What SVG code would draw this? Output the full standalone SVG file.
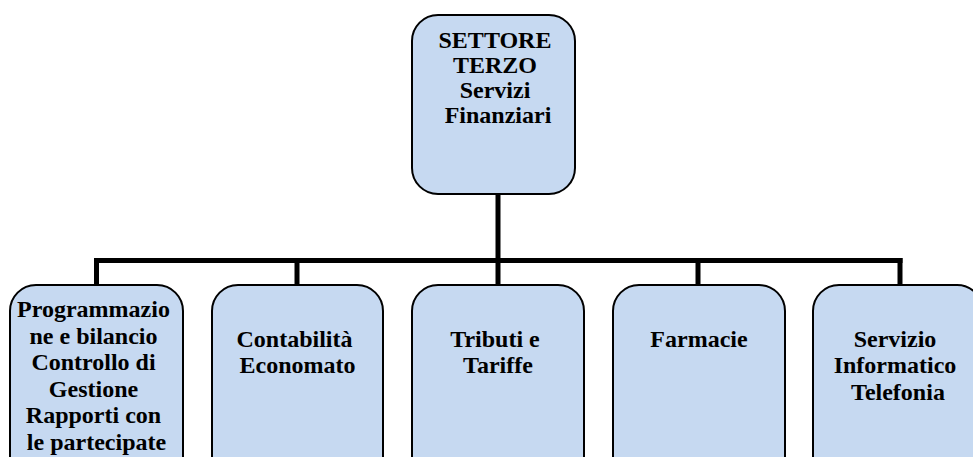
<svg xmlns="http://www.w3.org/2000/svg" width="973" height="457" viewBox="0 0 973 457">
  <style>
    .box { fill: #c6d9f1; stroke: #000; stroke-width: 2; }
    .lbl { font-family: 'Liberation Serif', 'Tinos', 'DejaVu Serif', serif; font-weight: 700; font-size: 24px; fill: #000; text-anchor: middle; }
    .wire { fill: none; stroke: #000; stroke-width: 5; stroke-linecap: square; }
  </style>
  <rect width="973" height="457" fill="#fff"/>

  <!-- connectors -->
  <g id="connectors">
    <path class="wire" d="M498,196 V260.5"/>
    <path class="wire" d="M96.5,260.5 H900"/>
    <path class="wire" d="M96.5,260.5 V283"/>
    <path class="wire" d="M297,260.5 V283"/>
    <path class="wire" d="M498,260.5 V283"/>
    <path class="wire" d="M698,260.5 V283"/>
    <path class="wire" d="M900,260.5 V283"/>
  </g>

  <!-- head of department -->
  <g id="settore-terzo">
    <rect class="box" x="412" y="15" width="163" height="179" rx="26"/>
    <text class="lbl">
      <tspan x="498" y="48">SETTORE</tspan>
      <tspan x="498" y="73">TERZO</tspan>
      <tspan x="498" y="98">Servizi</tspan>
      <tspan x="498" y="123">Finanziari</tspan>
    </text>
  </g>

  <!-- offices -->
  <g id="programmazione">
    <rect class="box" x="10" y="285" width="173" height="200" rx="26"/>
    <text class="lbl">
      <tspan x="96.5" y="317">Programmazio</tspan>
      <tspan x="96.5" y="343.5">ne e bilancio</tspan>
      <tspan x="96.5" y="370">Controllo di</tspan>
      <tspan x="96.5" y="396.5">Gestione</tspan>
      <tspan x="96.5" y="423">Rapporti con</tspan>
      <tspan x="96.5" y="449.5">le partecipate</tspan>
    </text>
  </g>

  <g id="contabilita">
    <rect class="box" x="212" y="285" width="171" height="200" rx="26"/>
    <text class="lbl">
      <tspan x="297.5" y="347">Contabilità</tspan>
      <tspan x="297.5" y="373">Economato</tspan>
    </text>
  </g>

  <g id="tributi">
    <rect class="box" x="412" y="285" width="172" height="200" rx="26"/>
    <text class="lbl">
      <tspan x="498" y="347">Tributi e</tspan>
      <tspan x="498" y="373">Tariffe</tspan>
    </text>
  </g>

  <g id="farmacie">
    <rect class="box" x="613" y="285" width="172" height="200" rx="26"/>
    <text class="lbl">
      <tspan x="699" y="347">Farmacie</tspan>
    </text>
  </g>

  <g id="servizio-informatico">
    <rect class="box" x="813" y="285" width="170" height="200" rx="26"/>
    <text class="lbl">
      <tspan x="898" y="347">Servizio</tspan>
      <tspan x="898" y="373">Informatico</tspan>
      <tspan x="898" y="400">Telefonia</tspan>
    </text>
  </g>
</svg>
